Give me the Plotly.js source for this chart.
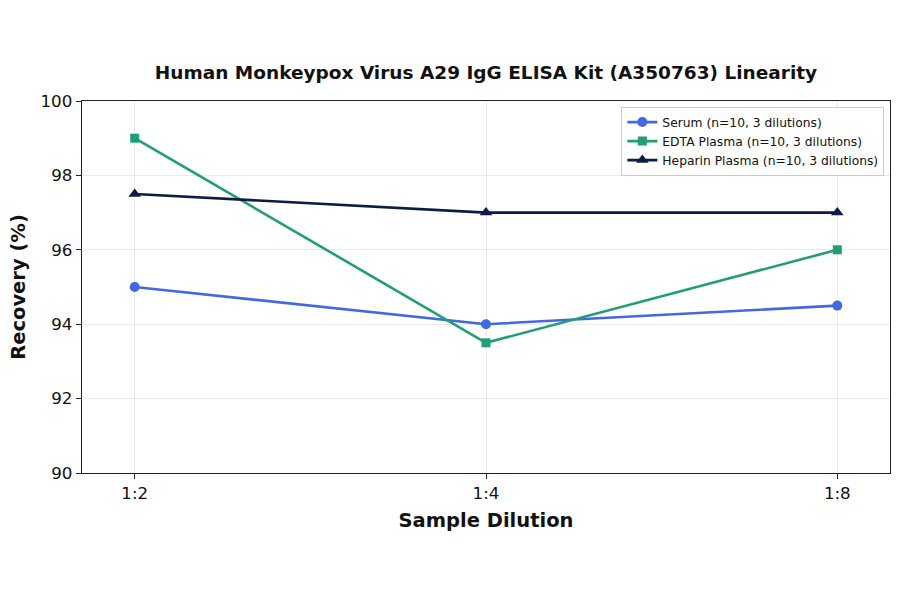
<!DOCTYPE html>
<html>
<head>
<meta charset="utf-8">
<script src="https://cdn.plot.ly/plotly-3.0.1.min.js"></script>
<style>
  html, body { margin: 0; padding: 0; background: #ffffff; }
  #chart { width: 900px; height: 594px; }
</style>
</head>
<body>
<div id="chart"></div>
<script>
(function () {
  'use strict';

  // Data
  var dilutions = ['1:2', '1:4', '1:8'];
  var serumValues = [95.0, 94.0, 94.5];
  var edtaValues = [99.0, 93.5, 96.0];
  var heparinValues = [97.5, 97.0, 97.0];
  var seriesNames = [
    'Serum (n=10, 3 dilutions)',
    'EDTA Plasma (n=10, 3 dilutions)',
    'Heparin Plasma (n=10, 3 dilutions)'
  ];
  var yTicks = [90, 92, 94, 96, 98, 100];

  var fontFamily = '"DejaVu Sans", sans-serif';
  var textColor = '#111111';
  var gridColor = 'rgba(0, 0, 0, 0.08)';

  function series(values, name, color, symbol, size) {
    return {
      x: [0, 1, 2],
      y: values,
      name: name,
      type: 'scatter',
      mode: 'lines+markers',
      line: { color: color, width: 2.6 },
      marker: { color: color, symbol: symbol, size: size },
      hovertemplate: '%{y}%<extra></extra>'
    };
  }

  var traces = [
    series(serumValues, seriesNames[0], '#4169e1', 'circle', 10),
    series(edtaValues, seriesNames[1], '#229e77', 'square', 9),
    series(heparinValues, seriesNames[2], '#0d1b45', 'triangle-up', 11)
  ];

  var axisCommon = {
    showgrid: true,
    gridcolor: gridColor,
    gridwidth: 1,
    zeroline: false,
    showline: true,
    mirror: true,
    linecolor: '#222222',
    linewidth: 1.3,
    ticks: 'outside',
    ticklen: 5,
    tickcolor: '#222222',
    tickfont: { family: fontFamily, size: 16.7, color: textColor }
  };

  var layout = {
    width: 900,
    height: 594,
    paper_bgcolor: '#ffffff',
    plot_bgcolor: '#ffffff',
    font: { family: fontFamily, size: 12, color: textColor },
    margin: { t: 101, r: 10, b: 121, l: 82 },
    title: {
      text: '<b>Human Monkeypox Virus A29 IgG ELISA Kit (A350763) Linearity</b>',
      font: { family: fontFamily, size: 18.5, color: textColor },
      x: 0.54,
      xanchor: 'center',
      y: 0.878,
      yanchor: 'middle'
    },
    xaxis: Object.assign({}, axisCommon, {
      range: [-0.15, 2.15],
      tickvals: [0, 1, 2],
      ticktext: dilutions,
      title: {
        text: '<b>Sample Dilution</b>',
        font: { family: fontFamily, size: 19.5, color: textColor },
        standoff: 11
      }
    }),
    yaxis: Object.assign({}, axisCommon, {
      range: [90, 100],
      tickvals: yTicks,
      title: {
        text: '<b>Recovery (%)</b>',
        font: { family: fontFamily, size: 19.5, color: textColor },
        standoff: 9
      }
    }),
    showlegend: true,
    legend: {
      x: 0.993,
      xanchor: 'right',
      y: 0.985,
      yanchor: 'top',
      bgcolor: 'rgba(255,255,255,0.9)',
      bordercolor: '#cccccc',
      borderwidth: 1,
      font: { family: fontFamily, size: 12.3, color: textColor },
      tracegroupgap: 0
    }
  };

  Plotly.newPlot('chart', traces, layout, { displayModeBar: false, staticPlot: true });
})();
</script>
</body>
</html>
